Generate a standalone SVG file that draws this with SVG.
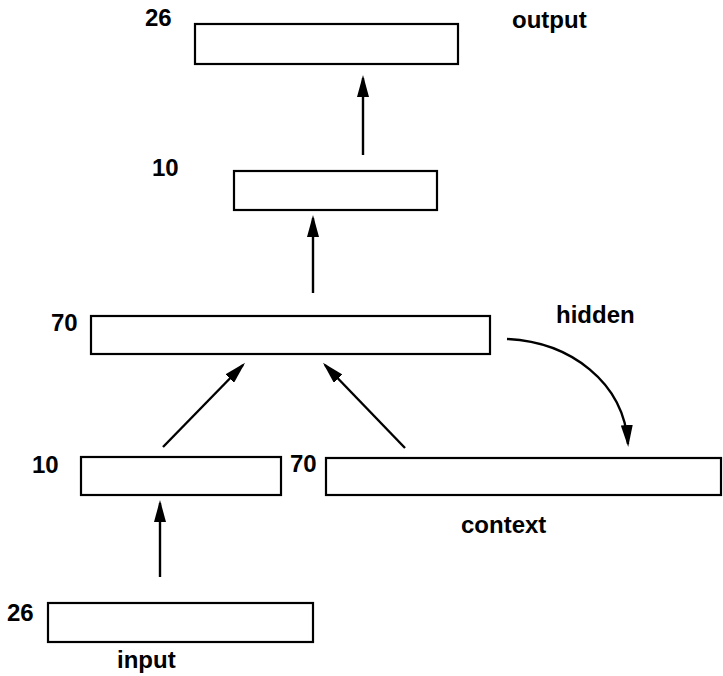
<svg xmlns="http://www.w3.org/2000/svg" width="723" height="676" viewBox="0 0 723 676">
  <style>
    .layer { fill: #fff; stroke: #000; stroke-width: 2.2; }
    .lbl { font-family: "Liberation Sans", Arial, sans-serif; font-weight: bold; font-size: 24px; fill: #000; }
    .conn { fill: none; stroke: #000; stroke-width: 2.4; }
  </style>
  <defs>
    <marker id="head" viewBox="0 0 22 12" refX="19" refY="6" markerWidth="22" markerHeight="12" markerUnits="userSpaceOnUse" orient="auto">
      <path d="M0,0 L22,6 L0,12 z" fill="#000"/>
    </marker>
  </defs>
  <rect width="723" height="676" fill="#fff"/>

  <g id="output-layer">
    <rect class="layer" x="195" y="24" width="263" height="40"/>
    <text class="lbl" x="145" y="26">26</text>
    <text class="lbl" x="512" y="28">output</text>
  </g>

  <g id="hidden2-layer">
    <rect class="layer" x="234" y="171" width="203" height="39"/>
    <text class="lbl" x="152" y="176">10</text>
  </g>

  <g id="hidden-layer">
    <rect class="layer" x="91" y="316" width="399" height="38"/>
    <text class="lbl" x="51" y="331">70</text>
    <text class="lbl" x="556" y="323">hidden</text>
  </g>

  <g id="input-proj-layer">
    <rect class="layer" x="81" y="457" width="200" height="38"/>
    <text class="lbl" x="32" y="473">10</text>
  </g>

  <g id="context-layer">
    <rect class="layer" x="326" y="458" width="395" height="37"/>
    <text class="lbl" x="290" y="472">70</text>
    <text class="lbl" x="461" y="533">context</text>
  </g>

  <g id="input-layer">
    <rect class="layer" x="48" y="603" width="265" height="39"/>
    <text class="lbl" x="7" y="621">26</text>
    <text class="lbl" x="117" y="668">input</text>
  </g>

  <g id="connectors">
    <line class="conn" x1="363" y1="155" x2="363" y2="78" marker-end="url(#head)"/>
    <line class="conn" x1="313" y1="293" x2="313" y2="218" marker-end="url(#head)"/>
    <line class="conn" x1="160" y1="577" x2="160" y2="503" marker-end="url(#head)"/>
    <line class="conn" x1="163" y1="447" x2="243" y2="365" marker-end="url(#head)"/>
    <line class="conn" x1="405" y1="448" x2="325" y2="365" marker-end="url(#head)"/>
    <path class="conn" d="M507,339 C570,342 624,382 628,444" marker-end="url(#head)"/>
  </g>
</svg>
